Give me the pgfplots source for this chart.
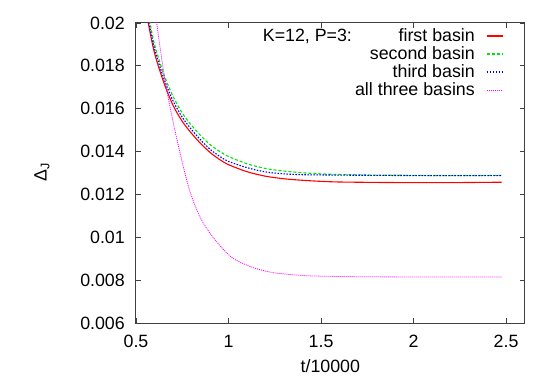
\documentclass[border=0pt]{standalone}
\usepackage{fontspec}
\setmainfont{Liberation Sans}
\usepackage{pgfplots}
\pgfplotsset{compat=1.18}
\definecolor{gpred}{RGB}{255,0,0}
\definecolor{gpgreen}{RGB}{0,230,0}
\definecolor{gpblue}{RGB}{0,0,255}
\definecolor{gpmag}{RGB}{255,0,255}
\tikzset{
  redline/.style={draw=gpred, line width=1.1pt},
  greenline/.style={draw=gpgreen, line width=1.1pt, dash pattern=on 3pt off 2pt},
  blueline/.style={draw=gpblue, line width=1.1pt, dash pattern=on 1.5pt off 1.5pt},
  magline/.style={draw=gpmag, line width=0.8pt, dash pattern=on 1pt off 1pt},
}
\begin{document}
\begin{tikzpicture}[font=\fontsize{17.8}{18}\selectfont]
\path[use as bounding box] (-136pt,-59pt) rectangle (409pt,323pt);
\begin{axis}[
  at={(0pt,0pt)}, anchor=south west,
  scale only axis, width=388.6pt, height=300pt,
  xmin=0.5, xmax=2.6, ymin=0.006, ymax=0.02,
  xtick={0.5,1,1.5,2,2.5}, xticklabels={0.5,1,1.5,2,2.5},
  ytick={0.006,0.008,0.01,0.012,0.014,0.016,0.018,0.02},
  yticklabels={0.006,0.008,0.01,0.012,0.014,0.016,0.018,0.02},
  scaled ticks=false,
  tick align=inside, major tick length=5pt,
  axis line style={black!75, line width=1pt},
  tick style={black!75, line width=0.8pt},
  xticklabel style={anchor=north, inner sep=0pt, yshift=-12pt},
  yticklabel style={anchor=east, inner sep=0pt, xshift=-11pt},
  xlabel={t/10000},
  xlabel style={at={(axis description cs:0.5,0)}, anchor=center, yshift=-43pt},
  ylabel={Δ\textsubscript{J}},
  ylabel style={at={(axis description cs:-0.242,0.503)}, anchor=center},
]
\addplot[redline, smooth, tension=0.5] coordinates {
(0.55,0.0209) (0.5664,0.0200) (0.6,0.0186) (0.65,0.01723) (0.7,0.01616) (0.75,0.01541) (0.8,0.01485) (0.85,0.01437) (0.9,0.01396) (0.95,0.01364) (1.0,0.01339) (1.1,0.01306) (1.2,0.01285) (1.3,0.01273) (1.4,0.01266) (1.5,0.01261) (1.6,0.01258) (1.8,0.01256) (2.0,0.01255) (2.2,0.01255) (2.476,0.01257)
};
\addplot[greenline, smooth, tension=0.5] coordinates {
(0.56,0.02057) (0.5756,0.0200) (0.6,0.0190) (0.65,0.01762) (0.7,0.01658) (0.75,0.01580) (0.8,0.01522) (0.85,0.01474) (0.9,0.01433) (0.95,0.01402) (1.0,0.01377) (1.1,0.01343) (1.2,0.01321) (1.3,0.01309) (1.4,0.01301) (1.5,0.01296) (1.6,0.01293) (1.8,0.01290) (2.0,0.01289) (2.2,0.01288) (2.476,0.01289)
};
\addplot[blueline, smooth, tension=0.5] coordinates {
(0.556,0.0207) (0.5702,0.0200) (0.6,0.0188) (0.65,0.01742) (0.7,0.01637) (0.75,0.01560) (0.8,0.01503) (0.85,0.01454) (0.9,0.01411) (0.95,0.01379) (1.0,0.01354) (1.1,0.01325) (1.2,0.01305) (1.3,0.01296) (1.4,0.01292) (1.5,0.01291) (1.6,0.01290) (1.8,0.01289) (2.0,0.01288) (2.2,0.01288) (2.476,0.01288)
};
\addplot[magline, smooth, tension=0.5] coordinates {
(0.5945,0.02107) (0.6118,0.0200) (0.6296,0.01888) (0.6566,0.01735) (0.6836,0.01609) (0.7106,0.01498) (0.7376,0.01395) (0.7646,0.01298) (0.7916,0.01214) (0.8186,0.01149) (0.8456,0.01095) (0.8726,0.01054) (0.8996,0.01019) (0.9536,0.00961) (1.0238,0.00902) (1.1156,0.00864) (1.1965,0.00843) (1.2775,0.00831) (1.4395,0.00820) (1.7095,0.00816) (1.9795,0.00815) (2.2495,0.00815) (2.4762,0.00815)
};
% legend (gnuplot style: text right-aligned, sample to the right)
\node[anchor=base west, inner sep=0pt] at (rel axis cs:0.326,0.9367) {K=12, P=3:};
\node[anchor=base east, inner sep=0pt] at (rel axis cs:0.8724,0.9367) {first basin};
\node[anchor=base east, inner sep=0pt] at (rel axis cs:0.8724,0.8767) {second basin};
\node[anchor=base east, inner sep=0pt] at (rel axis cs:0.8724,0.8167) {third basin};
\node[anchor=base east, inner sep=0pt] at (rel axis cs:0.8724,0.7567) {all three basins};
\draw[redline] (rel axis cs:0.9025,0.9567) -- (rel axis cs:0.9437,0.9567);
\draw[greenline] (rel axis cs:0.9025,0.8967) -- (rel axis cs:0.9437,0.8967);
\draw[blueline] (rel axis cs:0.9025,0.8367) -- (rel axis cs:0.9437,0.8367);
\draw[magline] (rel axis cs:0.9025,0.7767) -- (rel axis cs:0.9437,0.7767);
\end{axis}
\end{tikzpicture}
\end{document}
